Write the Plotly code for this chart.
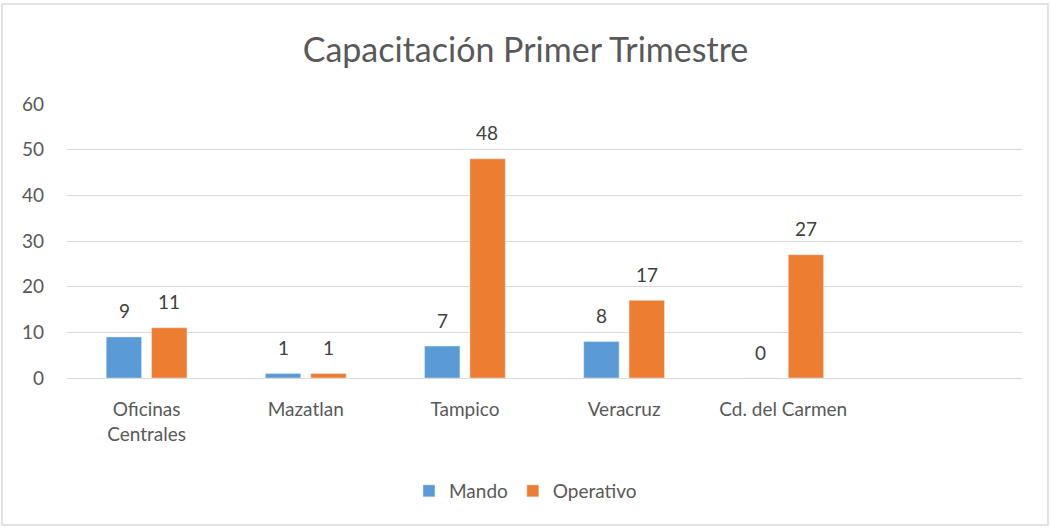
import plotly.graph_objects as go

categories = ["Oficinas<br>Centrales", "Mazatlan", "Tampico", "Veracruz", "Cd. del Carmen", " "]
mando = [9, 1, 7, 8, 0, None]
operativo = [11, 1, 48, 17, 27, None]
y_ticks = [0, 10, 20, 30, 40, 50, 60]

FONT = "Lato"
TXT = "#595959"
LBL = "#404040"

W, H = 1051, 528
L, R, T, B = 67, 29, 104, 150
PW, PH = W - L - R, H - T - B

fig = go.Figure()
fig.add_trace(go.Bar(name="Mando", x=categories, y=mando, marker_color="#5B9BD5"))
fig.add_trace(go.Bar(name="Operativo", x=categories, y=operativo, marker_color="#ED7D31"))

annotations = []
for series, dx in ((mando, -22.5), (operativo, 22.5)):
    for c, v in zip(categories, series):
        if v is None:
            continue
        annotations.append(dict(x=c, y=v, xref="x", yref="y", text=str(v), showarrow=False,
                                xshift=dx, yshift=26, yanchor="middle", xanchor="center",
                                font=dict(size=19, color=LBL, family=FONT)))

fig.update_layout(
    width=W, height=H,
    margin=dict(l=L, r=R, t=T, b=B),
    paper_bgcolor="white", plot_bgcolor="white",
    font=dict(family=FONT, color=TXT, size=18),
    title=dict(text="Capacitación Primer Trimestre", x=0.5, xref="container", xanchor="center",
               y=1 - 50 / H, yref="container", yanchor="middle",
               font=dict(size=34, color=TXT, family=FONT)),
    barmode="group", bargap=0.43, bargroupgap=0.22,
    showlegend=True,
    legend=dict(orientation="h", x=0.5, xref="container", xanchor="center",
                y=37 / H, yref="container", yanchor="middle",
                font=dict(size=19, color=TXT, family=FONT),
                traceorder="normal"),
    annotations=annotations,
    shapes=[dict(type="rect", xref="paper", yref="paper",
                 x0=(2 - L) / PW, x1=(1048 - L) / PW,
                 y0=(T + PH - 525) / PH, y1=(T + PH - 4) / PH,
                 line=dict(color="#D9D9D9", width=1.5), fillcolor="rgba(0,0,0,0)", layer="below")],
)
fig.update_xaxes(showgrid=False, showline=True, linecolor="#D9D9D9", linewidth=1,
                 ticks="", tickfont=dict(size=19, color=TXT, family=FONT),
                 ticklabelstandoff=14, fixedrange=True)
fig.update_yaxes(range=[0, 60], tickvals=y_ticks, showgrid=True, gridcolor="#D9D9D9",
                 gridwidth=1, zeroline=False, showline=False, ticks="",
                 tickfont=dict(size=19, color=TXT, family=FONT),
                 ticklabelstandoff=22, fixedrange=True)

fig.write_html("out.html", config={"displayModeBar": False},
               post_script="document.body.style.margin='0';document.body.style.overflow='hidden';")
